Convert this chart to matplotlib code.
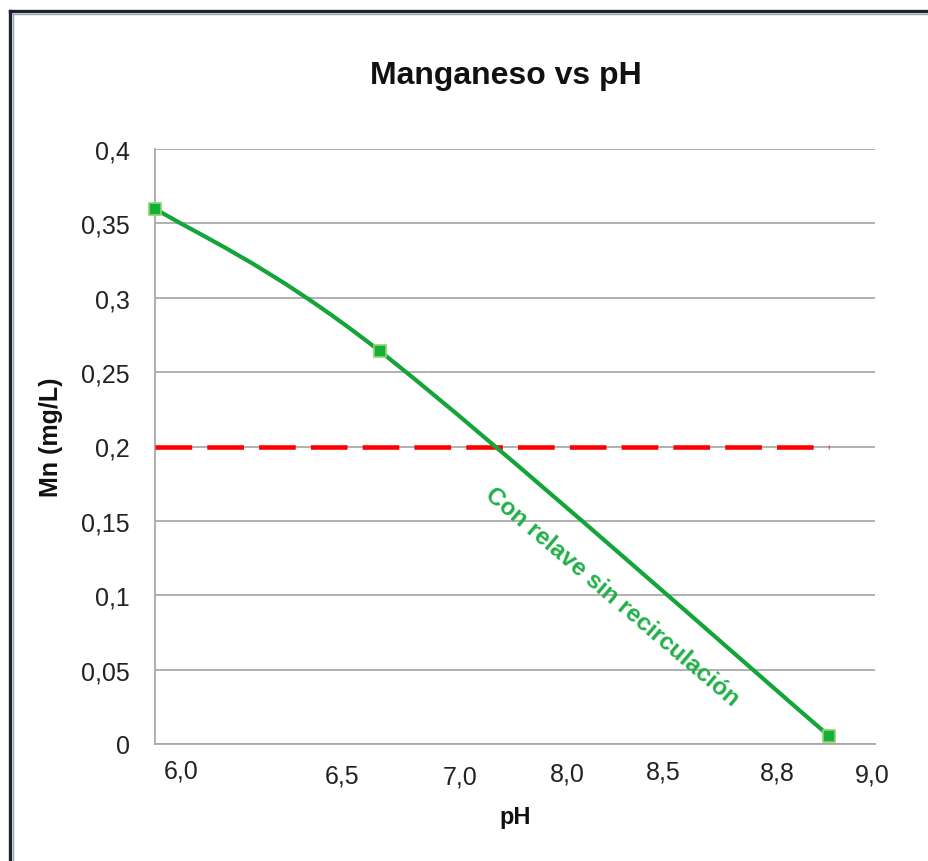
import numpy as np
import matplotlib
matplotlib.use("Agg")
import matplotlib.pyplot as plt
from matplotlib.lines import Line2D
from matplotlib.path import Path
from matplotlib.patches import PathPatch

plt.rcParams['font.family'] = ['Liberation Sans', 'DejaVu Sans']

# ---------------- data ----------------
title = "Manganeso vs pH"
x_label = "pH"
y_label = "Mn (mg/L)"
series_label = "Con relave sin recirculación"

# positions along the (non-uniform) pH axis, axis runs 0..100
x_pos = [0.0, 31.25, 93.6]
mn_values = [0.36, 0.264, 0.0055]

limit_value = 0.2

x_tick_pos = [3.6, 26.0, 42.4, 57.2, 70.6, 86.4, 99.6]
x_tick_labels = ["6,0", "6,5", "7,0", "8,0", "8,5", "8,8", "9,0"]

y_ticks = [0, 0.05, 0.1, 0.15, 0.2, 0.25, 0.3, 0.35, 0.4]
y_tick_labels = ["0", "0,05", "0,1", "0,15", "0,2", "0,25", "0,3", "0,35", "0,4"]

# ---------------- figure ----------------
W, H = 929, 862
fig = plt.figure(figsize=(W / 100, H / 100), dpi=100)
fig.patch.set_facecolor("white")

L, R, T, B = 155, 875, 150, 745
ax = fig.add_axes([L / W, 1 - B / H, (R - L) / W, (B - T) / H])
ax.set_xlim(0, 100)
ax.set_ylim(0, 0.4)

grid_c = "#b0b0b0"
for s in ["top", "right"]:
    ax.spines[s].set_visible(False)
ax.spines["left"].set_color("#a8a8a8")
ax.spines["bottom"].set_color("#a8a8a8")
ax.spines["left"].set_linewidth(1.3)
ax.spines["bottom"].set_linewidth(1.3)

ax.set_yticks(y_ticks)
ax.set_yticklabels(y_tick_labels, fontsize=18, color="#222222")
ax.tick_params(axis="y", length=0, pad=18)
ax.yaxis.grid(True, color=grid_c, linewidth=1.4)
ax.set_axisbelow(True)

ax.set_xticks([])
label_dy = [-27, -32, -33, -30, -28, -29, -31]  # px offsets (style)
for xp, lab, dy in zip(x_tick_pos, x_tick_labels, label_dy):
    ax.annotate(lab, xy=(xp, 0), xycoords=("data", "axes fraction"),
                xytext=(0, dy * 72 / 100), textcoords="offset points",
                ha="center", va="center", fontsize=18, color="#222222",
                annotation_clip=False)

# limit line
ax.plot([x_pos[0], x_pos[-1]], [limit_value, limit_value], color="#ff0000",
        linewidth=3.3, dashes=(8, 3.3), solid_capstyle="butt",
        dash_capstyle="butt", zorder=3, clip_on=False)

# smoothed series (Excel-like bezier smoothing in display space)
fig.canvas.draw()
pts = ax.transData.transform(np.column_stack([x_pos, mn_values]))
n = len(pts)
verts = [tuple(pts[0])]
codes = [Path.MOVETO]
for i in range(n - 1):
    p_prev = pts[max(i - 1, 0)]
    p0 = pts[i]
    p1 = pts[i + 1]
    p_next = pts[min(i + 2, n - 1)]
    c1 = p0 + (p1 - p_prev) / 6.0
    c2 = p1 - (p_next - p0) / 6.0
    verts += [tuple(c1), tuple(c2), tuple(p1)]
    codes += [Path.CURVE4] * 3
verts_data = ax.transData.inverted().transform(np.array(verts))
path = Path(verts_data, codes)
patch = PathPatch(path, facecolor="none", edgecolor="#13a53a", linewidth=3.0,
                  zorder=4, clip_on=False, capstyle="round", joinstyle="round")
ax.add_patch(patch)
ax.plot(x_pos, mn_values, linestyle="none", marker="s", markersize=8,
        markerfacecolor="#14b03a", markeredgecolor="#8fd46a",
        markeredgewidth=1.2, zorder=5, clip_on=False)

# series label along the line
lx, ly = ax.transData.inverted().transform((612, H - 597))
ax.text(lx, ly, series_label, rotation=-40.3, rotation_mode="anchor",
        ha="center", va="center", fontsize=17.5, fontweight="bold",
        color="#22b04a", zorder=6)

# titles
fig.text(506 / W, 1 - 76 / H, title, ha="center", va="center",
         fontsize=23, fontweight="bold", color="#111111")
fig.text(515 / W, 1 - 818 / H, x_label, ha="center", va="center",
         fontsize=17, fontweight="bold", color="#111111")
fig.text(51 / W, 1 - 437 / H, y_label, ha="center", va="center",
         rotation=90, fontsize=18, fontweight="bold", color="#111111")

# window frame (left and top dark border)
fig.add_artist(Line2D([10.5 / W, 10.5 / W], [0, 1 - 12 / H],
                      transform=fig.transFigure, color="#1b2230", linewidth=2.4))
fig.add_artist(Line2D([10.5 / W, 1], [1 - 12 / H, 1 - 12 / H],
                      transform=fig.transFigure, color="#1b2230", linewidth=2.4))
fig.add_artist(Line2D([13.5 / W, 13.5 / W], [0, 1 - 15 / H],
                      transform=fig.transFigure, color="#9aa3ad", linewidth=1.0))
fig.add_artist(Line2D([13.5 / W, 1], [1 - 15 / H, 1 - 15 / H],
                      transform=fig.transFigure, color="#9aa3ad", linewidth=1.0))

fig.savefig("out.png", dpi=100, facecolor="white")
